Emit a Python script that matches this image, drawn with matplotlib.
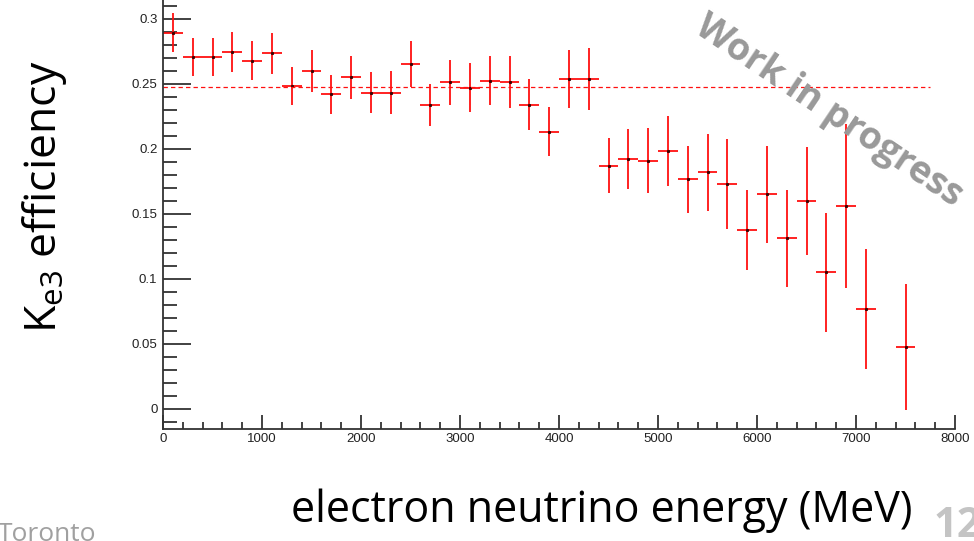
import matplotlib
matplotlib.use("Agg")
import matplotlib.pyplot as plt
from matplotlib.ticker import MultipleLocator

# Energy bins (MeV), 200 MeV wide
energy = [100, 300, 500, 700, 900, 1100, 1300, 1500, 1700, 1900, 2100, 2300,
          2500, 2700, 2900, 3100, 3300, 3500, 3700, 3900, 4100, 4300, 4500,
          4700, 4900, 5100, 5300, 5500, 5700, 5900, 6100, 6300, 6500, 6700,
          6900, 7100, 7500]
efficiency = [0.2895, 0.2705, 0.2705, 0.2746, 0.268, 0.2736, 0.2485, 0.2602,
              0.2421, 0.2551, 0.2433, 0.2433, 0.2656, 0.234, 0.2513, 0.2472,
              0.2526, 0.2513, 0.2341, 0.2133, 0.2538, 0.2538, 0.1872, 0.1923,
              0.191, 0.1987, 0.1767, 0.182, 0.1731, 0.1377, 0.1651, 0.1313,
              0.16, 0.1051, 0.1562, 0.0767, 0.0479]
eff_err = [0.015, 0.0147, 0.0147, 0.0154, 0.015, 0.0156, 0.0148, 0.016,
           0.015, 0.0165, 0.016, 0.0164, 0.0176, 0.0163, 0.0175, 0.0187,
           0.0188, 0.02, 0.0195, 0.019, 0.022, 0.024, 0.021, 0.0227, 0.025,
           0.027, 0.0259, 0.0294, 0.0346, 0.0308, 0.0373, 0.0373, 0.0417,
           0.0455, 0.063, 0.046, 0.0486]
bin_half = 100
ref_level = 0.248

fig = plt.figure(figsize=(9.74, 5.41), dpi=100)
ax = fig.add_axes([0.1674, 0.207, 0.8131, 0.793])

ax.errorbar(energy, efficiency, xerr=bin_half, yerr=eff_err, fmt='none',
            ecolor='#ff1010', elinewidth=1.3, capsize=0)
ax.plot(energy, efficiency, linestyle='none', marker='s', markersize=1.2,
        color='#400000')
ax.plot([0, 7750], [ref_level, ref_level], color='#ff1010', lw=0.9,
        dashes=(3.5, 2.5))

ax.set_xlim(0, 8000)
ax.set_ylim(-0.0154, 0.3146)
ax.xaxis.set_major_locator(MultipleLocator(1000))
ax.xaxis.set_minor_locator(MultipleLocator(200))
ax.yaxis.set_minor_locator(MultipleLocator(0.01))
ax.set_yticks([0, 0.05, 0.1, 0.15, 0.2, 0.25, 0.3])
ax.set_yticklabels(['0', '0.05', '0.1', '0.15', '0.2', '0.25', '0.3'])

for s in ['top', 'right']:
    ax.spines[s].set_visible(False)
for s in ['left', 'bottom']:
    ax.spines[s].set_color('#333333')
    ax.spines[s].set_linewidth(1.3)

ax.tick_params(axis='y', which='major', direction='in', length=20, width=1.3,
               color='#333333', pad=4, labelsize=9.5)
ax.tick_params(axis='y', which='minor', direction='in', length=10, width=1.3,
               color='#333333')
ax.tick_params(axis='x', which='major', direction='in', length=10, width=1.3,
               color='#333333', pad=3, labelsize=9.5)
ax.tick_params(axis='x', which='minor', direction='in', length=5, width=1.3,
               color='#333333')
for lab in ax.get_xticklabels() + ax.get_yticklabels():
    lab.set_family(['Liberation Sans', 'DejaVu Sans'])
    lab.set_color('#222222')

label_font = ['Open Sans', 'DejaVu Sans']
fig.text(0.046, 0.636, r'K$_{\mathregular{e3}}$ efficiency', rotation=90,
         fontsize=32, family=label_font, ha='center', va='center')
fig.text(0.618, 0.055, 'electron neutrino energy (MeV)', fontsize=31,
         family=label_font, ha='center', va='center')

fig.text(0.851, 0.795, 'Work in progress', rotation=-34, fontsize=27,
         fontweight='bold', color='#999999', family=label_font,
         ha='center', va='center')
fig.text(-0.002, -0.012, 'Toronto', fontsize=19, color='#a0a0a0',
         family=label_font, ha='left', va='bottom')
fig.text(0.958, -0.012, '12', fontsize=30, fontweight='bold', color='#c4c4c4',
         family=label_font, ha='left', va='bottom')

fig.savefig('out.png', dpi=100)
